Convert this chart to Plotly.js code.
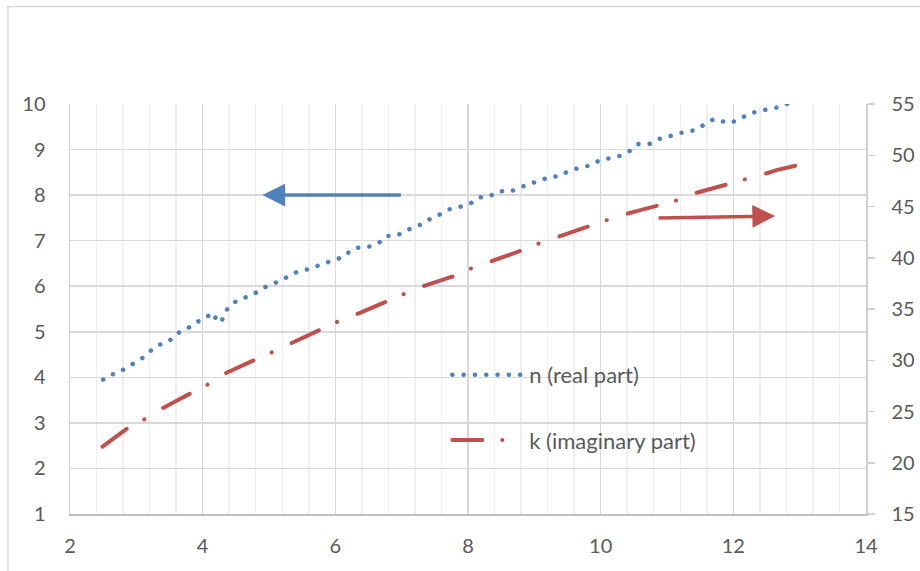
<!DOCTYPE html>
<html>
<head>
<meta charset="utf-8">
<script src="https://cdn.plot.ly/plotly-3.0.1.min.js"></script>
<style>html,body{margin:0;padding:0;background:#fff;}#chart{width:920px;height:571px;}</style>
</head>
<body>
<div id="chart"></div>
<script>
// n (real part), left axis
const nX = [2.50,2.63,2.69,2.81,2.94,3.08,3.21,3.34,3.49,3.61,3.75,3.89,4.03,4.15,4.21,4.28,4.33,4.42,4.56,4.71,4.85,4.99,5.14,5.28,5.43,5.58,5.73,5.86,6.01,6.13,6.25,6.39,6.52,6.65,6.76,6.91,7.05,7.17,7.31,7.45,7.57,7.72,7.87,8.03,8.17,8.32,8.47,8.61,8.76,8.91,9.07,9.22,9.37,9.52,9.68,9.84,9.98,10.13,10.29,10.44,10.57,10.73,10.87,11.02,11.17,11.34,11.48,11.60,11.71,11.81,11.94,12.09,12.21,12.37,12.53,12.68,12.83];
const nY = [3.95,4.07,4.07,4.18,4.30,4.41,4.58,4.71,4.79,4.96,5.05,5.20,5.29,5.42,5.26,5.20,5.42,5.59,5.72,5.78,5.90,6.02,6.10,6.22,6.32,6.37,6.45,6.51,6.58,6.65,6.81,6.86,6.87,6.94,7.10,7.11,7.19,7.30,7.36,7.50,7.57,7.69,7.74,7.81,7.95,7.97,8.09,8.07,8.14,8.25,8.30,8.40,8.41,8.53,8.60,8.65,8.76,8.80,8.86,8.97,9.12,9.12,9.23,9.28,9.36,9.39,9.47,9.59,9.67,9.63,9.58,9.66,9.77,9.84,9.88,9.93,10.01];
// k (imaginary part), right axis
const kX = [2.49,2.70,2.90,3.16,3.40,3.62,3.86,4.11,4.30,4.52,4.76,5.03,5.28,5.50,5.75,6.01,6.27,6.48,6.68,6.75,7.00,7.26,7.50,7.76,8.01,8.28,8.52,8.77,9.03,9.30,9.55,9.79,10.06,10.32,10.57,10.82,11.11,11.36,11.61,11.86,12.14,12.41,12.65,12.92,13.18];
const kY = [21.57,22.60,23.52,24.37,25.34,26.10,26.87,27.75,28.60,29.30,29.96,30.74,31.49,32.20,32.88,33.70,34.35,34.95,35.49,35.65,36.37,37.08,37.60,38.15,38.87,39.46,40.05,40.63,41.31,41.90,42.45,43.00,43.52,44.17,44.60,45.05,45.51,46.19,46.60,47.07,47.59,48.04,48.55,48.95,49.54];
const xTicks = [2,4,6,8,10,12,14];
const yTicks = [1,2,3,4,5,6,7,8,9,10];
const y2Ticks = [15,20,25,30,35,40,45,50,55];
const seriesNames = ['n (real part)', 'k (imaginary part)'];

const txt = '#595959';
const fnt = {family: 'Lato, "Open Sans", sans-serif', size: 20, color: txt};
const lfnt = {family: 'Lato, "Open Sans", sans-serif', size: 22, color: txt};

const traces = [
  {x: nX, y: nY, name: seriesNames[0], type: 'scatter', mode: 'lines', yaxis: 'y',
   line: {color: '#4f81bd', width: 4.5, dash: '0.1px,11.2px'}, legend: 'legend'},
  {x: kX, y: kY, name: seriesNames[1], type: 'scatter', mode: 'lines', yaxis: 'y2',
   line: {color: '#c0504d', width: 4, dash: '30px,20px,0.1px,22px'}, legend: 'legend2'}
];

const layout = {
  width: 920, height: 571,
  margin: {l: 70, r: 54, t: 104, b: 57},
  paper_bgcolor: '#ffffff', plot_bgcolor: '#ffffff',
  font: fnt,
  showlegend: true,
  xaxis: {range: [2, 14], tickvals: xTicks, ticktext: xTicks.map(String),
    showgrid: true, gridcolor: '#d9d9d9', gridwidth: 1.5,
    minor: {dtick: 0.4, showgrid: true, gridcolor: '#efefef', gridwidth: 1.5},
    showline: true, linecolor: '#bfbfbf', linewidth: 1.5, zeroline: false,
    ticks: '', ticklabelstandoff: 13, tickfont: fnt, mirror: false},
  yaxis: {range: [1, 10], tickvals: yTicks, ticktext: yTicks.map(String),
    showgrid: true, gridcolor: '#d9d9d9', gridwidth: 1.5,
    showline: true, linecolor: '#d0d0d0', linewidth: 1.5, zeroline: false,
    ticks: '', ticklabelstandoff: 19, tickfont: fnt},
  yaxis2: {range: [15, 55], tickvals: y2Ticks, ticktext: y2Ticks.map(String),
    overlaying: 'y', side: 'right', showgrid: false, zeroline: false,
    showline: true, linecolor: '#d0d0d0', linewidth: 1.5,
    ticks: 'outside', ticklen: 7, tickwidth: 1.5, tickcolor: '#d0d0d0',
    ticklabelstandoff: 13, tickfont: fnt},
  legend: {x: 0.474, y: 0.339, xanchor: 'left', yanchor: 'middle', bgcolor: 'rgba(0,0,0,0)',
    borderwidth: 0, itemwidth: 72, font: lfnt},
  legend2: {x: 0.474, y: 0.180, xanchor: 'left', yanchor: 'middle', bgcolor: 'rgba(0,0,0,0)',
    borderwidth: 0, itemwidth: 72, font: lfnt},
  annotations: [
    {x: 4.90, y: 8.0, xref: 'x', yref: 'y', ax: 140, ay: 0, axref: 'pixel', ayref: 'pixel',
     showarrow: true, arrowhead: 2, arrowsize: 1.3, arrowwidth: 3.5, arrowcolor: '#4f81bd', text: ''},
    {x: 12.63, y: 44.07, xref: 'x', yref: 'y2', ax: -118, ay: 2, axref: 'pixel', ayref: 'pixel',
     showarrow: true, arrowhead: 2, arrowsize: 1.3, arrowwidth: 3.5, arrowcolor: '#c0504d', text: ''}
  ],
  shapes: [
    {type: 'rect', xref: 'paper', yref: 'paper', x0: -0.078, x1: 1.08, y0: -0.16, y1: 1.2378,
     line: {color: '#d9d9d9', width: 1.5}, fillcolor: 'rgba(0,0,0,0)', layer: 'below'}
  ]
};

function roundCaps() {
  document.querySelectorAll('#chart .scatterlayer path.js-line, #chart .legendlines path').forEach(function (p) {
    p.style.strokeLinecap = 'round';
  });
}

Plotly.newPlot('chart', traces, layout, {displayModeBar: false, staticPlot: true}).then(roundCaps);
document.getElementById('chart').on && document.getElementById('chart').on('plotly_afterplot', roundCaps);
</script>
</body>
</html>
